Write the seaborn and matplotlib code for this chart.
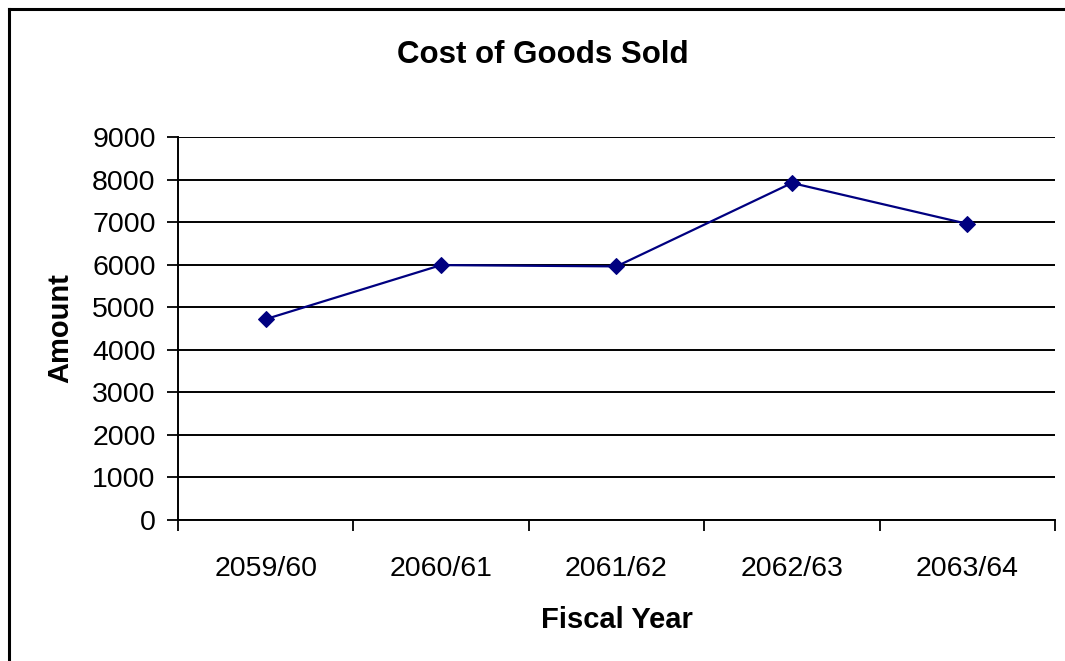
import matplotlib
matplotlib.use("Agg")
import matplotlib.pyplot as plt
import pandas as pd
import seaborn as sns
from matplotlib.lines import Line2D
from matplotlib.ticker import FixedLocator

years = ["2059/60", "2060/61", "2061/62", "2062/63", "2063/64"]
amounts = [4720, 5990, 5960, 7920, 6960]
y_ticks = [0, 1000, 2000, 3000, 4000, 5000, 6000, 7000, 8000, 9000]

df = pd.DataFrame({"Fiscal Year": years, "Amount": amounts})

sns.set_theme(style="white")
plt.rcParams["font.family"] = ["Liberation Sans", "DejaVu Sans"]
plt.rcParams["text.color"] = "black"
plt.rcParams["axes.labelcolor"] = "black"
plt.rcParams["xtick.color"] = "black"
plt.rcParams["ytick.color"] = "black"

fig = plt.figure(figsize=(10.65, 6.61), dpi=100)
ax = fig.add_axes([0.1671, 0.2133, 0.8235, 0.5794])

sns.lineplot(data=df, x="Fiscal Year", y="Amount", ax=ax, color="#000080",
             linewidth=1.6, marker="D", markersize=8, markeredgecolor="#000080",
             sort=False)

ax.set_xlim(-0.5, len(years) - 0.5)
ax.set_ylim(0, 9000)
ax.set_yticks(y_ticks)
ax.set_yticklabels([str(v) for v in y_ticks])
ax.yaxis.grid(True, color="black", linewidth=1.4)
ax.set_axisbelow(True)

ax.set_xticks(range(len(years)))
ax.set_xticklabels(years)
ax.xaxis.set_minor_locator(FixedLocator([i - 0.5 for i in range(len(years) + 1)]))
ax.tick_params(axis="x", which="major", length=0, pad=26, labelsize=20.5, colors="black")
ax.tick_params(axis="x", which="minor", length=8, width=1.3, color="black", bottom=True)
ax.tick_params(axis="y", which="major", length=8, width=1.3, color="black", left=True,
               labelsize=20.5, pad=8)

for side in ["top", "right"]:
    ax.spines[side].set_visible(False)
for side in ["left", "bottom"]:
    ax.spines[side].set_color("black")
    ax.spines[side].set_linewidth(1.4)

ax.set_xlabel("Fiscal Year", fontsize=21, fontweight="bold", labelpad=17)
ax.set_ylabel("Amount", fontsize=21, fontweight="bold", labelpad=13)
fig.text(0.51, 0.917, "Cost of Goods Sold", ha="center", va="center",
         fontsize=22.5, fontweight="bold")

# chart-area border: only left and top edges fall inside the picture
bx, by = 8.5 / 1065, 1 - 9 / 661
fig.add_artist(Line2D([bx, bx], [0, by], transform=fig.transFigure,
                      color="black", linewidth=2.2, solid_capstyle="projecting"))
fig.add_artist(Line2D([bx, 1], [by, by], transform=fig.transFigure,
                      color="black", linewidth=2.2, solid_capstyle="projecting"))

fig.savefig("out.png", dpi=100, facecolor="white")
